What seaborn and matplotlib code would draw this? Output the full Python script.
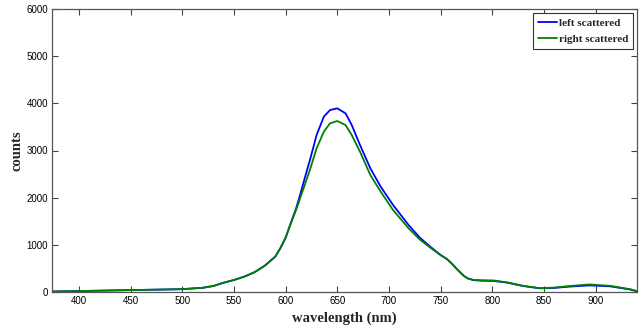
import matplotlib
matplotlib.use("Agg")
import matplotlib.pyplot as plt
import seaborn as sns
import pandas as pd

# wavelengths (nm)
wavelength = [374, 400, 450, 500, 520, 530, 540, 550, 560, 570, 580, 590, 595,
              600, 605, 610, 614, 619, 624, 630, 637, 643, 650, 658, 664, 672,
              682, 692, 704, 719, 730, 740, 750, 756, 760, 766, 772, 776, 782,
              790, 801, 814, 830, 846, 859, 875, 894, 914, 933, 940]

left_scattered = [10, 20, 40, 60, 90, 127, 197, 254, 325, 420, 560, 750, 930,
                  1150, 1460, 1760, 2056, 2450, 2834, 3328, 3717, 3858, 3894,
                  3788, 3540, 3116, 2622, 2233, 1844, 1420, 1150, 960, 785, 700,
                  620, 480, 350, 290, 250, 240, 235, 200, 127, 78, 85, 115, 140,
                  120, 55, 15]

right_scattered = [10, 20, 40, 60, 90, 127, 197, 254, 325, 420, 560, 750, 930,
                   1150, 1450, 1730, 1986, 2300, 2622, 3046, 3399, 3576, 3625,
                   3540, 3328, 2975, 2480, 2127, 1738, 1350, 1110, 940, 780, 700,
                   620, 480, 350, 290, 255, 248, 245, 205, 130, 80, 92, 127, 160,
                   130, 60, 20]

series_names = ["left scattered", "right scattered"]
series_colors = ["#0000ff", "#008000"]

x_ticks = [400, 450, 500, 550, 600, 650, 700, 750, 800, 850, 900]
y_ticks = [0, 1000, 2000, 3000, 4000, 5000, 6000]

df = pd.concat([
    pd.DataFrame({"wavelength": wavelength, "counts": left_scattered, "series": series_names[0]}),
    pd.DataFrame({"wavelength": wavelength, "counts": right_scattered, "series": series_names[1]}),
])

sns.set_style("white")
plt.rcParams["font.family"] = ["Liberation Sans", "DejaVu Sans"]

fig = plt.figure(figsize=(6.39, 3.31), dpi=100)
ax = fig.add_axes([52 / 639, 39 / 331, 585 / 639, 283 / 331])

sns.lineplot(data=df, x="wavelength", y="counts", hue="series",
             palette=dict(zip(series_names, series_colors)), linewidth=1.3,
             ax=ax, sort=False, estimator=None)

ax.set_xlim(374, 940)
ax.set_ylim(0, 6000)
ax.set_xticks(x_ticks)
ax.set_yticks(y_ticks)
ax.tick_params(direction="in", length=4, width=0.8, colors="#444444",
               labelcolor="black", labelsize=7, top=True, right=True,
               bottom=True, left=True, pad=3)
for s in ax.spines.values():
    s.set_color("#555555")
    s.set_linewidth(0.9)

ax.set_xlabel("wavelength (nm)", fontfamily="Liberation Serif",
              fontweight="bold", fontsize=10.5, labelpad=4)
ax.set_ylabel("counts", fontfamily="Liberation Serif",
              fontweight="bold", fontsize=10.5, labelpad=2)

handles, labels = ax.get_legend_handles_labels()
leg = ax.legend(handles, labels, loc="upper right", frameon=True, fancybox=False,
                framealpha=1, edgecolor="#333333", handlelength=1.7,
                handletextpad=0.2, borderpad=0.45, labelspacing=0.6,
                borderaxespad=0.35,
                prop={"family": "Liberation Serif", "weight": "bold", "size": 8})
leg.get_frame().set_linewidth(0.8)

fig.savefig("out.png", dpi=100)
